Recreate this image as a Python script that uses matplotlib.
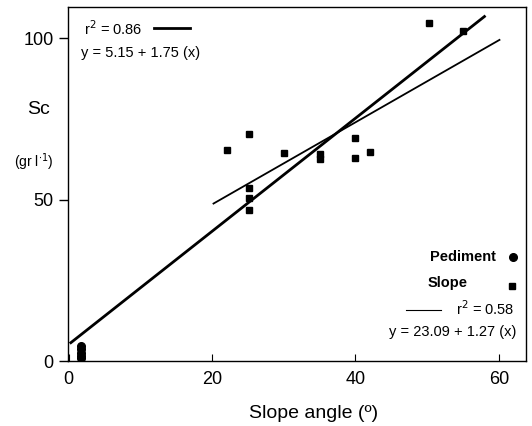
import numpy as np
import matplotlib
matplotlib.use("Agg")
import matplotlib.pyplot as plt

plt.rcParams['font.family'] = ['Liberation Sans', 'DejaVu Sans']

# pediment samples (slope angle, Sc)
ped_x = [1.7, 1.7, 1.7, 1.7, 1.7]
ped_y = [4.6, 3.6, 2.6, 1.6, 0.8]

# slope samples
slope_x = [22.1, 25.1, 25.1, 25.1, 25.1, 30.1, 35.0, 35.0, 40.0, 40.0, 42.1, 50.2, 55.0]
slope_y = [65.2, 70.3, 53.7, 50.4, 46.7, 64.3, 64.1, 62.5, 68.9, 62.8, 64.7, 104.7, 102.2]

# regression fits
all_a, all_b = 5.15, 1.75
all_range = [0.3, 58.0]
slope_a, slope_b = 23.09, 1.27
slope_range = [20.2, 60.1]

fig = plt.figure(figsize=(5.32, 4.26), dpi=100)
ax = fig.add_axes([68 / 532, 1 - 361 / 426, 458 / 532, 354 / 426])

xa = np.array(all_range)
ax.plot(xa, all_a + all_b * xa, color='black', lw=2.0)
xs = np.array(slope_range)
ax.plot(xs, slope_a + slope_b * xs, color='black', lw=1.3)

ax.plot(slope_x, slope_y, 's', color='black', ms=5)
ax.plot(ped_x, ped_y, 'o', color='black', ms=5.5)

ax.set_xlim(-0.1, 63.8)
ax.set_ylim(0, 109.6)
ax.set_xticks([0, 20, 40, 60])
ax.set_yticks([0, 50, 100])
ax.tick_params(axis='y', direction='out', length=6.5, labelsize=13, width=1, pad=4)
ax.tick_params(axis='x', direction='in', length=5, labelsize=13, width=0.8, pad=7)
for s in ax.spines.values():
    s.set_linewidth(1.0)

# x label (sits right of axes centre in the original)
fig.text(314 / 532, 1 - 413 / 426, 'Slope angle (º)', fontsize=14, ha='center', va='center')

# y label pieces
fig.text(39 / 532, 1 - 110 / 426, 'Sc', fontsize=14, ha='center', va='center')
fig.text(34 / 532, 1 - 162 / 426, '(gr l$^{\\cdot 1}$)', fontsize=10, ha='center', va='center')

# fit annotations, top-left
fig.text(84 / 532, 1 - 29 / 426, 'r$^2$ = 0.86', fontsize=10.5, ha='left', va='center')
fig.add_artist(plt.Line2D([154 / 532, 190 / 532], [1 - 28 / 426, 1 - 28 / 426], color='black', lw=2.0))
fig.text(81 / 532, 1 - 53 / 426, 'y = 5.15 + 1.75 (x)', fontsize=10.5, ha='left', va='center')

# legend, bottom-right
fig.text(496 / 532, 1 - 257 / 426, 'Pediment', fontsize=10.5, fontweight='bold', ha='right', va='center')
fig.text(468 / 532, 1 - 283 / 426, 'Slope', fontsize=10.5, fontweight='bold', ha='right', va='center')
fig.add_artist(plt.Line2D([513 / 532], [1 - 257 / 426], marker='o', color='black', ms=5.5))
fig.add_artist(plt.Line2D([512 / 532], [1 - 286 / 426], marker='s', color='black', ms=4))
fig.add_artist(plt.Line2D([406 / 532, 441 / 532], [1 - 310 / 426, 1 - 310 / 426], color='black', lw=0.8))
fig.text(514 / 532, 1 - 309 / 426, 'r$^2$ = 0.58', fontsize=10.5, ha='right', va='center')
fig.text(516 / 532, 1 - 332 / 426, 'y = 23.09 + 1.27 (x)', fontsize=10.5, ha='right', va='center')

fig.savefig('out.png', dpi=100)
